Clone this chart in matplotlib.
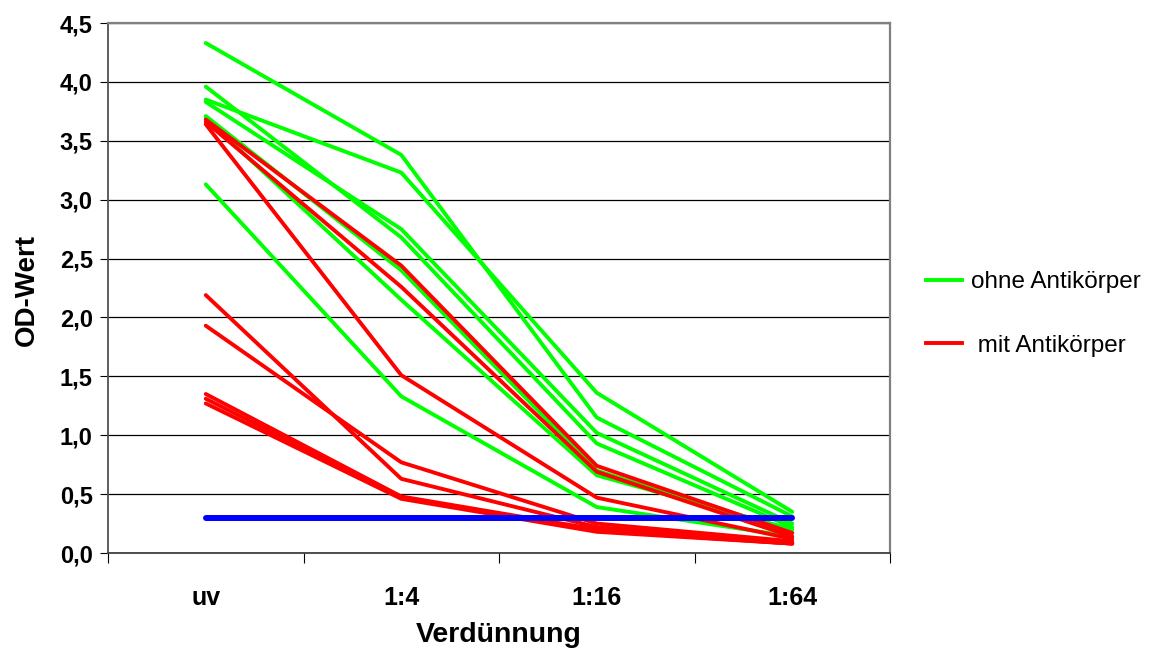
import matplotlib
matplotlib.use("Agg")
import matplotlib.pyplot as plt
from matplotlib.lines import Line2D

categories = ["uv", "1:4", "1:16", "1:64"]

# ohne Antikörper (green)
ohne_1 = [4.33, 3.38, 1.15, 0.31]
ohne_2 = [3.85, 3.23, 1.36, 0.35]
ohne_3 = [3.83, 2.75, 1.02, 0.25]
ohne_4 = [3.96, 2.68, 0.93, 0.22]
ohne_5 = [3.71, 2.40, 0.70, 0.17]
ohne_6 = [3.69, 2.15, 0.66, 0.20]
ohne_7 = [3.13, 1.33, 0.39, 0.14]

# mit Antikörper (red)
mit_1 = [3.68, 2.44, 0.74, 0.17]
mit_2 = [3.66, 2.26, 0.69, 0.14]
mit_3 = [3.64, 1.51, 0.47, 0.12]
mit_4 = [2.19, 0.63, 0.22, 0.09]
mit_5 = [1.93, 0.77, 0.25, 0.10]
mit_6 = [1.35, 0.48, 0.20, 0.08]
mit_7 = [1.31, 0.47, 0.19, 0.08]
mit_8 = [1.27, 0.46, 0.18, 0.08]

cutoff = [0.30, 0.30, 0.30, 0.30]

ohne_series = [ohne_1, ohne_2, ohne_3, ohne_4, ohne_5, ohne_6, ohne_7]
mit_series = [mit_1, mit_2, mit_3, mit_4, mit_5, mit_6, mit_7, mit_8]

yticks = [0.0, 0.5, 1.0, 1.5, 2.0, 2.5, 3.0, 3.5, 4.0, 4.5]
ytick_labels = ["0,0", "0,5", "1,0", "1,5", "2,0", "2,5", "3,0", "3,5", "4,0", "4,5"]

plt.rcParams['font.family'] = ['Liberation Sans', 'DejaVu Sans']

W, H = 1152, 652
fig = plt.figure(figsize=(W / 100, H / 100), dpi=100)
ax = fig.add_axes([108 / W, 1 - 553 / H, (890 - 108) / W, (553 - 23) / H])

x = list(range(len(categories)))
lw = 2.8
for s in ohne_series:
    ax.plot(x, s, color="#00FF00", lw=lw, solid_capstyle="round", zorder=3)
for s in mit_series:
    ax.plot(x, s, color="#FF0000", lw=lw, solid_capstyle="round", zorder=3)
ax.plot(x, cutoff, color="#0000FF", lw=4.3, solid_capstyle="round", zorder=4)

ax.set_xlim(-0.5, 3.5)
ax.set_ylim(0, 4.5)
ax.set_yticks(yticks)
ax.set_yticklabels(ytick_labels, fontsize=17, fontweight="bold")
ax.set_xticks(x)
ax.set_xticklabels(categories, fontsize=18, fontweight="bold")
ax.set_xticks([-0.5, 0.5, 1.5, 2.5, 3.5], minor=True)
ax.tick_params(axis="x", which="major", length=0, pad=24)
ax.tick_params(axis="x", which="minor", length=7, width=0.8, color="#000000", direction="out")
ax.tick_params(axis="y", which="major", length=6, width=0.8, direction="out", pad=5)

ax.yaxis.grid(True, color="#000000", lw=0.9)
ax.set_axisbelow(True)

for side in ["top", "right"]:
    ax.spines[side].set_color("#808080")
    ax.spines[side].set_linewidth(1.6)
ax.spines["left"].set_color("#505050")
ax.spines["left"].set_linewidth(1.3)
ax.spines["bottom"].set_color("#404040")
ax.spines["bottom"].set_linewidth(1.3)

fig.text(499 / W, 1 - 642 / H, "Verdünnung", fontsize=20.5, fontweight="bold",
         ha="center", va="baseline")
fig.text(27 / W, 1 - 290 / H, "OD-Wert", fontsize=20, fontweight="bold",
         rotation=90, ha="center", va="center")

handles = [Line2D([0], [0], color="#00FF00", lw=2.8),
           Line2D([0], [0], color="#FF0000", lw=2.8)]
fig.legend(handles, ["ohne Antikörper", " mit Antikörper"],
           loc="upper left", bbox_to_anchor=(926 / W, 1 - 271 / H),
           frameon=False, fontsize=17.5, handlelength=1.5, handletextpad=0.36,
           labelspacing=1.72, borderaxespad=0, borderpad=0)

fig.savefig("out.png", dpi=100)
